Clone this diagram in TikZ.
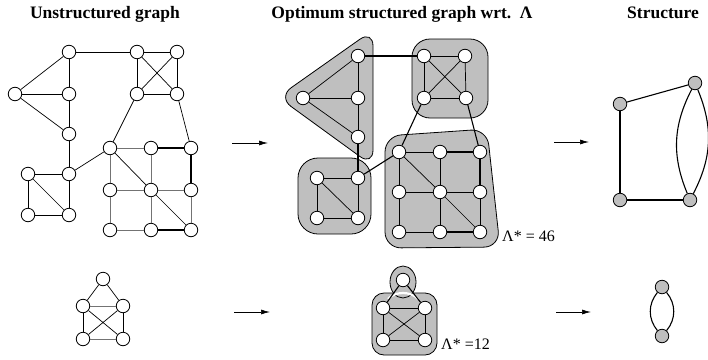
\documentclass[tikz,border=0pt]{standalone}
\usepackage{fontspec}
\setmainfont{Liberation Serif}
\usetikzlibrary{arrows.meta, positioning}

\begin{document}
\begin{tikzpicture}[x=1pt, y=-1pt,
  vtx/.style={circle, draw, fill=white, line width=0.8pt, minimum size=13.5pt, inner sep=0pt},
  svtx/.style={vtx, fill=gray!50},
  blob/.style={draw, fill=gray!50, line width=0.8pt},
  edge/.style={line width=0.7pt},
  gedge/.style={edge, draw=black!55},
  bedge/.style={line width=1.1pt},
  arr/.style={-{Latex[length=9pt, width=5pt]}, line width=0.7pt},
  title/.style={font=\fontsize{17.5}{20}\selectfont\bfseries, anchor=base, inner sep=0pt},
  lbl/.style={font=\fontsize{16}{18}\selectfont, anchor=base west, inner sep=0pt},
]
\useasboundingbox (0,0) rectangle (708,359);

%% --- Titles ---
\node[title] (tunstr) at (105,18) {Unstructured graph};
\node[title] (topt)   at (402,18) {Optimum structured graph wrt.\ \ Λ};
\node[title] (tstr)   at (663,18) {Structure};

%% --- Unstructured graph ---
\node[vtx] (ua) at (69,52) {};
\node[vtx] (ub) at (137,52) {};
\node[vtx] (uc) at (177,52) {};
\node[vtx] (ud) at (15,94) {};
\node[vtx] (ue) at (69,94) {};
\node[vtx] (uf) at (137,94) {};
\node[vtx] (ug) at (177,94) {};
\node[vtx] (uh) at (69,134) {};
\node[vtx] (ui) at (110,148) {};
\node[vtx] (uj) at (151,148) {};
\node[vtx] (uk) at (191,148) {};
\node[vtx] (ul) at (28,174) {};
\node[vtx] (um) at (69,174) {};
\node[vtx] (un) at (110,190) {};
\node[vtx] (uo) at (151,190) {};
\node[vtx] (up) at (191,190) {};
\node[vtx] (uq) at (28,215) {};
\node[vtx] (ur) at (69,215) {};
\node[vtx] (us) at (110,230) {};
\node[vtx] (ut) at (151,230) {};
\node[vtx] (uu) at (191,230) {};

\draw[edge] (ua) -- (ub);
\draw[edge] (ua) -- (ud);
\draw[edge] (ua) -- (ue);
\draw[edge] (ud) -- (ue);
\draw[edge] (ud) -- (uh);
\draw[edge] (ue) -- (uh);
\draw[edge] (uh) -- (um);
\draw[edge] (ub) -- (uc);
\draw[edge] (ub) -- (uf);
\draw[edge] (uc) -- (ug);
\draw[edge] (uf) -- (ug);
\draw[edge] (ub) -- (ug);
\draw[edge] (uc) -- (uf);
\draw[edge] (uf) -- (ui);
\draw[edge] (ug) -- (uk);
\draw[edge] (um) -- (ui);
\draw[edge] (ul) -- (um);
\draw[edge] (ul) -- (uq);
\draw[edge] (uq) -- (ur);
\draw[edge] (ul) -- (ur);
\draw[edge] (um) -- (ur);
\draw[gedge] (ui) -- (uj);
\draw[gedge] (ui) -- (un);
\draw[gedge] (uj) -- (uo);
\draw[gedge] (un) -- (uo);
\draw[gedge] (uo) -- (up);
\draw[gedge] (un) -- (us);
\draw[gedge] (uo) -- (ut);
\draw[gedge] (up) -- (uu);
\draw[gedge] (us) -- (ut);
\draw[edge] (ui) -- (uo);
\draw[edge] (uo) -- (uu);
\draw[bedge] (uj) -- (uk);
\draw[bedge] (uk) -- (up);
\draw[bedge] (ut) -- (uu);

%% --- Clusters ---
\draw[blob, rounded corners=16pt] (373,30) -- (278,97) -- (373,166) -- cycle;
\draw[blob, rounded corners=18pt] (412,39) rectangle (488,118);
\draw[blob, rounded corners=20pt] (298,158) rectangle (371,234);
\draw[blob, rounded corners=16pt] (385,136) -- (487,129) -- (500,247) -- (385,248) -- cycle;

%% --- Optimum structured graph ---
\node[vtx] (ma) at (358,56) {};
\node[vtx] (mb) at (424,56) {};
\node[vtx] (mc) at (465,56) {};
\node[vtx] (md) at (303,98) {};
\node[vtx] (me) at (358,98) {};
\node[vtx] (mf) at (424,98) {};
\node[vtx] (mg) at (466,98) {};
\node[vtx] (mh) at (358,137) {};
\node[vtx] (mi) at (399,152) {};
\node[vtx] (mj) at (440,152) {};
\node[vtx] (mk) at (480,152) {};
\node[vtx] (ml) at (317,178) {};
\node[vtx] (mm) at (358,178) {};
\node[vtx] (mn) at (399,192) {};
\node[vtx] (mo) at (440,192) {};
\node[vtx] (mp) at (480,192) {};
\node[vtx] (mq) at (317,218) {};
\node[vtx] (mr) at (358,218) {};
\node[vtx] (ms) at (399,232) {};
\node[vtx] (mt) at (440,232) {};
\node[vtx] (mu) at (480,232) {};

\draw[edge] (ma) -- (md);
\draw[edge] (ma) -- (me);
\draw[edge] (md) -- (me);
\draw[edge] (md) -- (mh);
\draw[edge] (me) -- (mh);
\draw[edge] (mb) -- (mc);
\draw[edge] (mb) -- (mf);
\draw[edge] (mc) -- (mg);
\draw[edge] (mf) -- (mg);
\draw[edge] (mb) -- (mg);
\draw[edge] (mc) -- (mf);
\draw[edge] (ml) -- (mm);
\draw[edge] (ml) -- (mq);
\draw[edge] (mq) -- (mr);
\draw[edge] (ml) -- (mr);
\draw[edge] (mm) -- (mr);
\draw[edge] (mi) -- (mj);
\draw[edge] (mi) -- (mn);
\draw[edge] (mj) -- (mo);
\draw[edge] (mn) -- (mo);
\draw[edge] (mo) -- (mp);
\draw[edge] (mn) -- (ms);
\draw[edge] (mo) -- (mt);
\draw[edge] (mp) -- (mu);
\draw[edge] (ms) -- (mt);
\draw[edge] (mi) -- (mo);
\draw[edge] (mo) -- (mu);
\draw[bedge] (mj) -- (mk);
\draw[bedge] (mk) -- (mp);
\draw[bedge] (mt) -- (mu);
% links between clusters
\draw[bedge] (ma) -- (mb);
\draw[bedge] (mh) -- (mm);
\draw[bedge] (mm) -- (mi);
\draw[bedge] (mf) -- (mi);
\draw[bedge] (mg) -- (mk);

\node[lbl] (lam1) at (502,241) {Λ* = 46};

%% --- Structure ---
\node[svtx] (sa) at (620,104) {};
\node[svtx] (sb) at (695,83) {};
\node[svtx] (sc) at (620,200) {};
\node[svtx] (sd) at (690,200) {};
\draw[bedge] (sa) -- (sb);
\draw[bedge] (sa) -- (sc);
\draw[bedge] (sc) -- (sd);
\draw[bedge] (sb) to[bend left=25] (sd);
\draw[bedge] (sb) to[bend right=25] (sd);

%% --- Arrows ---
\coordinate (ar1s) at (232,143);
\coordinate (ar1e) at (268,143);
\coordinate (ar2s) at (554,142);
\coordinate (ar2e) at (589,142);
\coordinate (ar3s) at (234,312);
\coordinate (ar3e) at (270,312);
\coordinate (ar4s) at (556,312);
\coordinate (ar4e) at (591,312);
\draw[arr] (ar1s) -- (ar1e);
\draw[arr] (ar2s) -- (ar2e);
\draw[arr] (ar3s) -- (ar3e);
\draw[arr] (ar4s) -- (ar4e);

%% --- Small example ---
\node[vtx] (xa) at (103,279) {};
\node[vtx] (xb) at (83,306) {};
\node[vtx] (xc) at (123,306) {};
\node[vtx] (xd) at (83,339) {};
\node[vtx] (xe) at (123,339) {};
\draw[edge] (xa) -- (xb);
\draw[edge] (xa) -- (xc);
\draw[gedge] (xb) -- (xc);
\draw[edge] (xb) -- (xd);
\draw[edge] (xc) -- (xe);
\draw[gedge] (xd) -- (xe);
\draw[edge] (xb) -- (xe);
\draw[edge] (xc) -- (xd);

% clusters of the small example
\draw[blob, rounded corners=12pt] (372,293) rectangle (437,355);
\draw[blob] (403,282) ellipse [x radius=13, y radius=16];
\draw[white, line width=2.2pt] (388,299) .. controls (395,291) and (411,291) .. (418,299);

\node[vtx] (ya) at (403,280) {};
\node[vtx] (yb) at (383,308) {};
\node[vtx] (yc) at (425,308) {};
\node[vtx] (yd) at (383,340) {};
\node[vtx] (ye) at (425,340) {};
\draw[bedge] (ya) -- (yb);
\draw[bedge] (ya) -- (yc);
\draw[edge] (yb) -- (yc);
\draw[edge] (yb) -- (yd);
\draw[edge] (yc) -- (ye);
\draw[edge] (yd) -- (ye);
\draw[edge] (yb) -- (ye);
\draw[edge] (yc) -- (yd);

\node[lbl] (lam2) at (441,349) {Λ* =12};

\node[svtx] (za) at (662,287) {};
\node[svtx] (zb) at (662,336) {};
\draw[bedge] (za) to[bend left=40] (zb);
\draw[bedge] (za) to[bend right=40] (zb);

\end{tikzpicture}
\end{document}
